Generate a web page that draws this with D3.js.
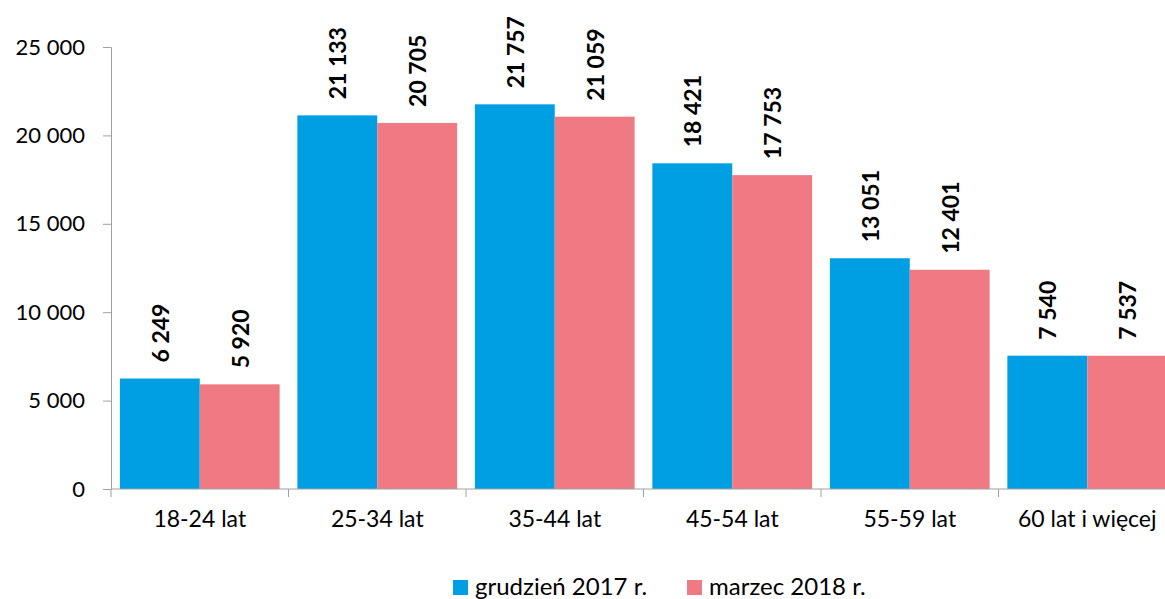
<!DOCTYPE html>
<html>
<head>
<meta charset="utf-8">
<script src="https://cdn.jsdelivr.net/npm/d3@7"></script>
<style>
  body { margin: 0; background: #fff; }
  svg text { font-family: Lato, "Open Sans", sans-serif; fill: #000; }
</style>
</head>
<body>
<svg id="chart"></svg>
<script>
const width = 1165
const height = 599

const categories = ["18-24 lat", "25-34 lat", "35-44 lat", "45-54 lat", "55-59 lat", "60 lat i więcej"]
const seriesNames = ["grudzień 2017 r.", "marzec 2018 r."]
const dec2017 = [6249, 21133, 21757, 18421, 13051, 7540]
const mar2018 = [5920, 20705, 21059, 17753, 12401, 7537]
const yTicks = [0, 5000, 10000, 15000, 20000, 25000]
const colors = ["#009fe3", "#f07a84"]

const fmt = v => d3.format(",")(v).replace(/,/g, " ")

const svg = d3.select("#chart")
    .attr("width", width)
    .attr("height", height)

const x = d3.scaleBand()
    .domain(categories)
    .range([111, 1176])
    .paddingInner(0.1)
    .paddingOuter(0.05)

const x1 = d3.scaleBand()
    .domain(seriesNames)
    .range([0, x.bandwidth()])

const y = d3.scaleLinear()
    .domain([0, 25000])
    .range([489, 47])

const rows = categories.map((c, i) => ({ cat: c, values: [dec2017[i], mar2018[i]] }))

// bars
const groups = svg.append("g")
    .selectAll("g")
    .data(rows)
    .enter().append("g")
    .attr("transform", d => `translate(${x(d.cat)},0)`)

groups.selectAll("rect")
    .data(d => d.values.map((v, j) => ({ name: seriesNames[j], v: v, j: j })))
    .enter().append("rect")
    .attr("x", d => x1(d.name))
    .attr("y", d => y(d.v))
    .attr("width", x1.bandwidth())
    .attr("height", d => y(0) - y(d.v))
    .attr("fill", d => colors[d.j])

// value labels, rotated
groups.selectAll("text")
    .data(d => d.values.map((v, j) => ({ name: seriesNames[j], v: v })))
    .enter().append("text")
    .attr("transform", d => `translate(${x1(d.name) + x1.bandwidth() / 2 + 9},${y(d.v) - 16}) rotate(-90)`)
    .attr("text-anchor", "start")
    .style("font-size", "23px")
    .style("font-weight", "bold")
    .text(d => fmt(d.v))

// y axis
const yAxis = svg.append("g")
    .attr("transform", "translate(111,0)")
    .call(d3.axisLeft(y).tickValues(yTicks).tickSize(8).tickPadding(18).tickFormat(fmt))
yAxis.select(".domain").attr("stroke", "#a0a0a0")
yAxis.selectAll(".tick line").attr("stroke", "#a0a0a0")
yAxis.selectAll(".tick text").style("font-size", "22px")

// x axis
const xAxis = svg.append("g")
    .attr("transform", "translate(0,489)")
xAxis.append("line")
    .attr("x1", 111).attr("x2", width)
    .attr("y1", 0).attr("y2", 0)
    .attr("stroke", "#a0a0a0")
xAxis.selectAll("line.sep")
    .data(categories)
    .enter().append("line")
    .attr("class", "sep")
    .attr("x1", d => x(d) - x.step() * x.paddingInner() / 2)
    .attr("x2", d => x(d) - x.step() * x.paddingInner() / 2)
    .attr("y1", 0).attr("y2", 8)
    .attr("stroke", "#a0a0a0")
xAxis.selectAll("text")
    .data(categories)
    .enter().append("text")
    .attr("x", d => x(d) + x.bandwidth() / 2)
    .attr("y", 38)
    .attr("text-anchor", "middle")
    .style("font-size", "23px")
    .text(d => d)

// legend
const legendX = [453, 687]
const legend = svg.append("g")
    .selectAll("g")
    .data(seriesNames)
    .enter().append("g")
    .attr("transform", (d, i) => `translate(${legendX[i]},580)`)
legend.append("rect")
    .attr("width", 15).attr("height", 15)
    .attr("fill", (d, i) => colors[i])
legend.append("text")
    .attr("x", 22).attr("y", 15)
    .style("font-size", "24px")
    .text(d => d)
</script>
</body>
</html>
